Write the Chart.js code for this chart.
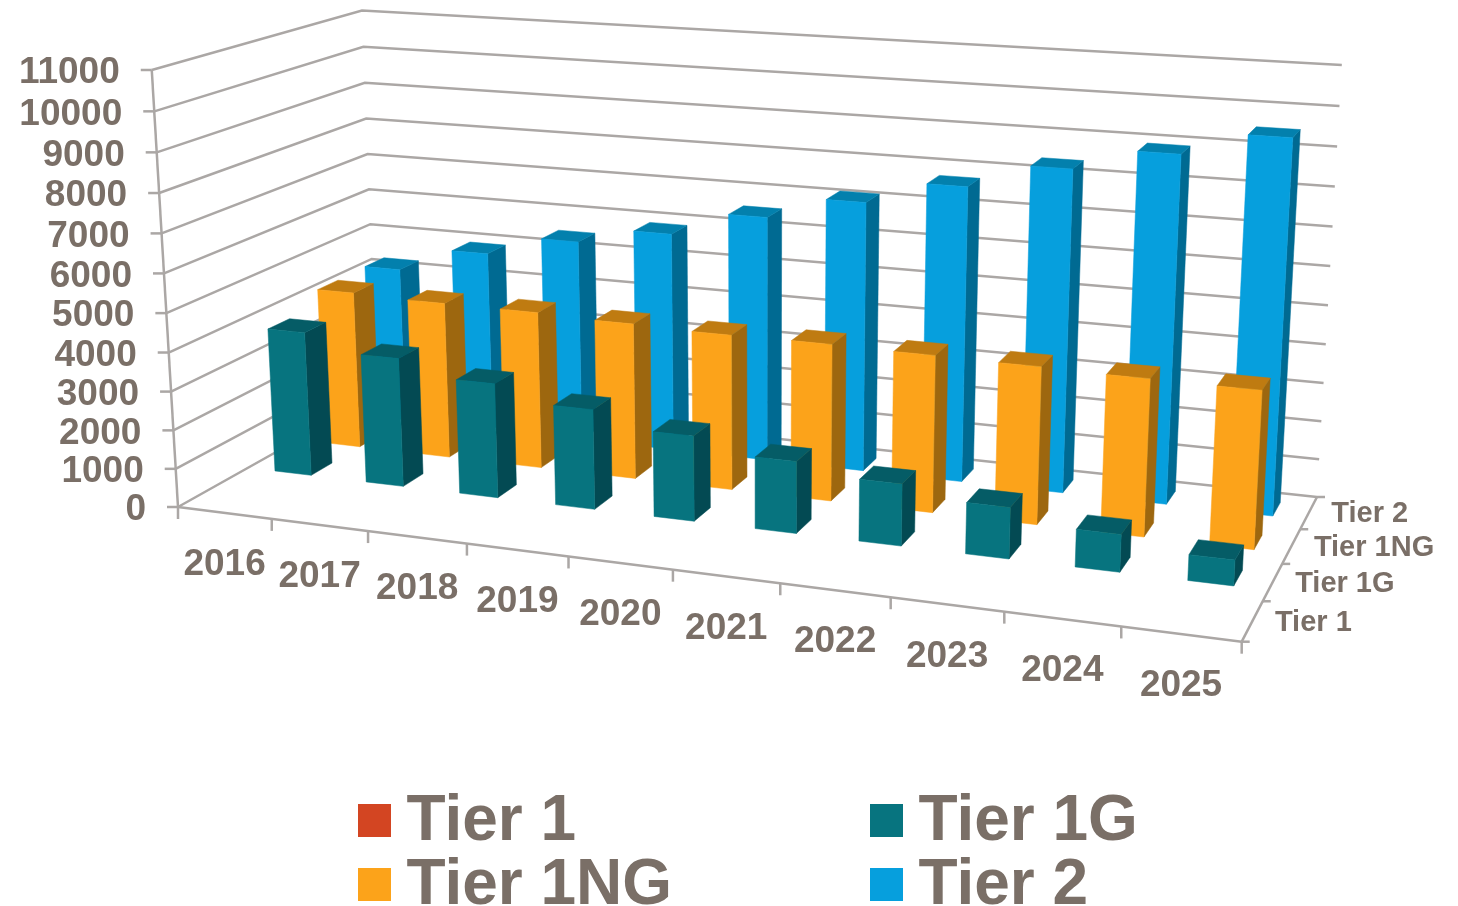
<!DOCTYPE html>
<html>
<head>
<meta charset="utf-8">
<title>Tier chart</title>
<script src="https://cdn.jsdelivr.net/npm/chart.js@4/dist/chart.umd.min.js"></script>
<style>
  html, body { margin: 0; padding: 0; background: #fff; }
  #wrap { width: 1458px; height: 906px; }
</style>
</head>
<body>
<div id="wrap"><canvas id="chart"></canvas></div>
<script>
const years = ['2016', '2017', '2018', '2019', '2020', '2021', '2022', '2023', '2024', '2025'];
const tiers = ['Tier 1', 'Tier 1G', 'Tier 1NG', 'Tier 2'];

const tier1 = [0, 0, 0, 0, 0, 0, 0, 0, 0, 0];
const tier1G = [3820, 3390, 2990, 2590, 2190, 1830, 1560, 1280, 930, 630];
const tier1NG = [4240, 4190, 4180, 4120, 4070, 4080, 4050, 4020, 3980, 3960];
const tier2 = [4270, 4930, 5470, 5890, 6540, 7130, 7730, 8370, 8920, 9500];

const faceColors = [
    { front: '#d34522', side: '#8f2f17', top: '#a93719' },
    { front: '#07747f', side: '#034a53', top: '#055c66' },
    { front: '#fca31a', side: '#9d670f', top: '#bf7b11' },
    { front: '#069fdd', side: '#006a92', top: '#0380ad' }
];
const TEXT_COLOR = '#7a6f67';
const GRID_COLOR = '#aba7a5';
const FONT = '"Liberation Sans", Arial, sans-serif';

// view of the box: floor corners on screen plus where the verticals converge
const floor = { fl: [178, 507], fr: [1241.7, 641.7], br: [1317, 497], bl: [377, 395.5] };
const vertical = { x: 760, y: 10200, lift: 0.04314 };
const DEPTH_RATIO = 0.42;

function floorCoefficients() {
    const { fl, fr, br, bl } = floor;
    const sx = fl[0] - fr[0] + br[0] - bl[0];
    const sy = fl[1] - fr[1] + br[1] - bl[1];
    const dx1 = fr[0] - br[0], dy1 = fr[1] - br[1];
    const dx2 = bl[0] - br[0], dy2 = bl[1] - br[1];
    const det = dx1 * dy2 - dx2 * dy1;
    return {
        g: (sx * dy2 - dx2 * sy) / det,
        h: (dx1 * sy - sx * dy1) / det
    };
}
const { g, h } = floorCoefficients();

// u: along the years, d: into the depth, v: up the wall, all 0..1
function project(u, d, v) {
    const { fl, fr, bl } = floor;
    const w1 = 1 + g, w3 = 1 + h;
    const t = -vertical.lift * v;
    const X = fl[0] + u * (fr[0] * w1 - fl[0]) + d * (bl[0] * w3 - fl[0]) + t * vertical.x;
    const Y = fl[1] + u * (fr[1] * w1 - fl[1]) + d * (bl[1] * w3 - fl[1]) + t * vertical.y;
    const W = 1 + g * u + h * d + t;
    return [X / W, Y / W];
}

function line(ctx, a, b) {
    ctx.beginPath();
    ctx.moveTo(a[0], a[1]);
    ctx.lineTo(b[0], b[1]);
    ctx.stroke();
}

function face(ctx, color, pts) {
    ctx.fillStyle = color;
    ctx.strokeStyle = color;
    ctx.lineWidth = 0.5;
    ctx.beginPath();
    pts.forEach((p, i) => i ? ctx.lineTo(p[0], p[1]) : ctx.moveTo(p[0], p[1]));
    ctx.closePath();
    ctx.fill();
    ctx.stroke();
}

function drawBox(ctx, chart) {
    const yScale = chart.scales.y;
    const area = chart.chartArea;
    const rows = tiers.length;

    ctx.strokeStyle = GRID_COLOR;
    ctx.lineWidth = 2.5;

    // gridlines on the left and back walls
    yScale.ticks.forEach(tick => {
        const v = (area.bottom - yScale.getPixelForValue(tick.value)) / area.height;
        const front = project(0, 0, v);
        const corner = project(0, 1, v);
        const end = project(1, 1, v);
        ctx.beginPath();
        ctx.moveTo(front[0], front[1]);
        ctx.lineTo(corner[0], corner[1]);
        ctx.lineTo(end[0], end[1]);
        ctx.stroke();
        line(ctx, front, [front[0] - 11, front[1]]);

        ctx.fillStyle = TEXT_COLOR;
        ctx.font = 'bold 37px ' + FONT;
        ctx.textAlign = 'right';
        ctx.textBaseline = 'middle';
        ctx.fillText(tick.label, front[0] - 32, front[1] + 3);
    });

    line(ctx, project(0, 0, 0), project(0, 0, 1));
    line(ctx, project(0, 0, 0), project(1, 0, 0));
    line(ctx, project(1, 0, 0), project(1, 1, 0));

    // ticks and labels under the front edge
    for (let i = 0; i <= years.length; i++) {
        const p = project(i / years.length, 0, 0);
        line(ctx, p, [p[0], p[1] + 12]);
    }
    ctx.font = 'bold 37px ' + FONT;
    ctx.textAlign = 'center';
    ctx.fillStyle = TEXT_COLOR;
    years.forEach((year, i) => {
        const p = project((i + 0.5) / years.length, 0, 0);
        ctx.fillText(year, p[0], p[1] + 52);
    });

    // ticks and labels along the right edge
    for (let j = 0; j <= rows; j++) {
        const p = project(1, j / rows, 0);
        line(ctx, p, [p[0] + 8, p[1]]);
    }
    ctx.font = 'bold 29px ' + FONT;
    ctx.textAlign = 'left';
    tiers.forEach((tier, j) => {
        const p = project(1, (j + 0.5) / rows, 0);
        ctx.fillText(tier, p[0] + 22.5, p[1] + 1.5);
    });
}

function drawBars(ctx, chart) {
    const area = chart.chartArea;
    const rows = tiers.length;
    for (let j = rows - 1; j >= 0; j--) {
        const meta = chart.getDatasetMeta(j);
        const colors = faceColors[j];
        const d0 = (j + 0.5 - DEPTH_RATIO / 2) / rows;
        const d1 = (j + 0.5 + DEPTH_RATIO / 2) / rows;
        meta.data.forEach(bar => {
            const v = (bar.base - bar.y) / area.height;
            if (v <= 0) return;
            const u = (bar.x - area.left) / area.width;
            const half = bar.width / 2 / area.width;
            const u0 = u - half, u1 = u + half;
            face(ctx, colors.side, [project(u1, d0, 0), project(u1, d1, 0), project(u1, d1, v), project(u1, d0, v)]);
            face(ctx, colors.top, [project(u0, d0, v), project(u1, d0, v), project(u1, d1, v), project(u0, d1, v)]);
            face(ctx, colors.front, [project(u0, d0, 0), project(u1, d0, 0), project(u1, d0, v), project(u0, d0, v)]);
        });
    }
}

function drawLegend(ctx) {
    const columns = [358, 870];
    const swatchTops = [804, 868];
    ctx.font = 'bold 64px ' + FONT;
    ctx.textAlign = 'left';
    ctx.textBaseline = 'alphabetic';
    tiers.forEach((tier, j) => {
        const x = columns[j % 2];
        const y = swatchTops[Math.floor(j / 2)];
        ctx.fillStyle = faceColors[j].front;
        ctx.fillRect(x, y, 33, 33);
        ctx.fillStyle = TEXT_COLOR;
        ctx.fillText(tier, x + 48.5, y + 36);
    });
}

const perspectivePlugin = {
    id: 'perspective',
    beforeDatasetsDraw(chart) {
        const ctx = chart.ctx;
        ctx.save();
        drawBox(ctx, chart);
        drawBars(ctx, chart);
        drawLegend(ctx);
        ctx.restore();
        return false;
    }
};

const seriesValues = [tier1, tier1G, tier1NG, tier2];

new Chart(document.getElementById('chart'), {
    type: 'bar',
    data: {
        labels: years,
        datasets: tiers.map((tier, j) => ({
            label: tier,
            data: seriesValues[j],
            backgroundColor: faceColors[j].front,
            grouped: false,
            barPercentage: 0.4,
            categoryPercentage: 1
        }))
    },
    options: {
        responsive: true,
        maintainAspectRatio: false,
        animation: false,
        plugins: {
            legend: { display: false },
            tooltip: { enabled: false }
        },
        scales: {
            x: { display: false },
            y: {
                display: false,
                min: 0,
                max: 11000,
                ticks: { stepSize: 1000, callback: value => String(value) }
            }
        }
    },
    plugins: [perspectivePlugin]
});
</script>
</body>
</html>
